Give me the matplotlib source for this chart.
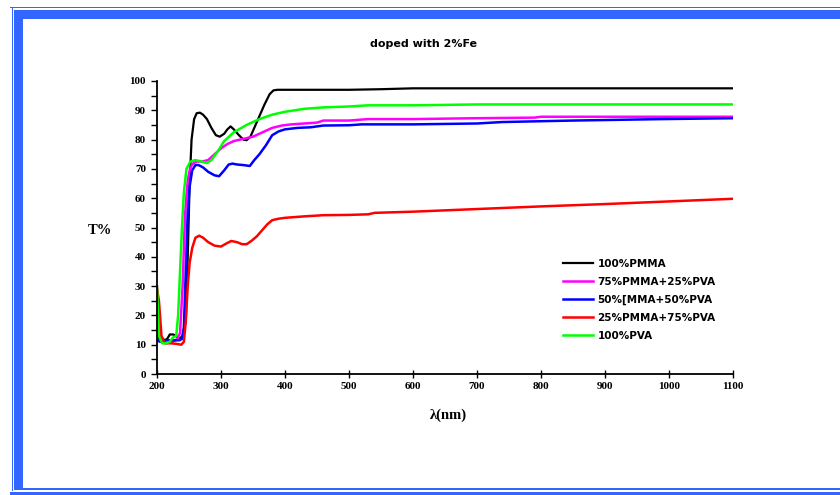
import matplotlib
matplotlib.use("Agg")
import matplotlib.pyplot as plt
from matplotlib.patches import Rectangle
from matplotlib.ticker import MultipleLocator

# wavelength (nm) / transmittance (%)
wl_pmma = [200, 203, 207, 212, 216, 220, 225, 230, 235, 240, 245, 248, 251, 254, 258, 262, 267,
           272, 278, 285, 292, 298, 305, 310, 315, 320, 328, 335, 340, 346, 352, 360, 368, 376,
           382, 388, 400, 450, 500, 550, 600, 700, 800, 900, 1000, 1100]
t_pmma = [13, 12, 12.5, 11.5, 12, 13.5, 13.5, 13, 12, 13, 18, 40, 65, 80, 87, 89, 89.2,
          88.5, 87, 84, 81.5, 81, 82, 83.5, 84.5, 83.5, 81.5, 80, 79.8, 81, 84, 88, 92, 95.5,
          96.8, 97, 97, 97, 97, 97.2, 97.5, 97.5, 97.5, 97.5, 97.5, 97.5]

wl_75 = [200, 203, 207, 215, 225, 232, 236, 240, 244, 248, 252, 257, 263, 270, 280, 290, 300,
         310, 320, 330, 340, 350, 360, 370, 380, 395, 410, 430, 450, 460, 500, 530, 600, 700,
         790, 800, 900, 1000, 1100]
t_75 = [30, 14, 11, 10.5, 11, 12, 14, 30, 55, 66, 70.5, 72, 72.5, 72.5, 73, 75, 77,
        78.5, 79.5, 80, 80.5, 81, 82, 83, 84, 84.8, 85.2, 85.5, 85.8, 86.5, 86.5, 87, 87, 87.3,
        87.5, 87.8, 87.8, 87.8, 87.8]

wl_50 = [200, 205, 215, 225, 235, 239, 242, 245, 248, 251, 255, 260, 265, 272, 280, 290, 297,
         305, 312, 318, 325, 335, 345, 352, 360, 370, 380, 390, 400, 420, 440, 460, 500, 520,
         600, 700, 740, 850, 990, 1100]
t_50 = [11.5, 11, 11.5, 11.5, 11.5, 12, 16, 35, 55, 64, 69.5, 71.3, 71.3, 70.5, 69, 67.8, 67.5,
        69.5, 71.5, 71.8, 71.5, 71.3, 71, 73, 75, 78, 81.5, 82.8, 83.5, 84, 84.2, 84.8, 84.9, 85.2,
        85.2, 85.5, 86, 86.5, 87, 87.3]

wl_25 = [200, 203, 207, 212, 220, 230, 238, 242, 245, 248, 251, 255, 260, 266, 272, 280, 290,
         300, 308, 316, 325, 333, 340, 348, 356, 364, 372, 380, 390, 400, 430, 460, 500, 530,
         540, 600, 700, 800, 900, 1000, 1100]
t_25 = [29, 25, 13, 10.5, 10.5, 10.3, 10, 11, 18, 30, 38, 43, 46.5, 47.2, 46.5, 45, 43.8,
        43.5, 44.5, 45.4, 45, 44.3, 44.3, 45.5, 47, 49, 51, 52.5, 53, 53.3, 53.8, 54.2, 54.3, 54.5,
        55, 55.4, 56.3, 57.2, 58, 58.9, 59.8]

wl_pva = [200, 203, 208, 215, 220, 225, 230, 233, 236, 239, 242, 246, 252, 260, 270, 278, 285,
          295, 305, 320, 340, 360, 380, 400, 430, 460, 500, 530, 600, 700, 1100]
t_pva = [30, 13, 10.5, 10.5, 11, 12.5, 13, 20, 35, 50, 62, 70, 72.5, 73, 72.5, 72, 73,
         76, 79.5, 82.5, 85, 87, 88.5, 89.5, 90.5, 91, 91.3, 91.7, 91.7, 92, 92]

series = [
    (wl_pmma, t_pmma, "black", "100%PMMA"),
    (wl_75, t_75, "#ff00ff", "75%PMMA+25%PVA"),
    (wl_50, t_50, "#0000ff", "50%[MMA+50%PVA"),
    (wl_25, t_25, "#ff0000", "25%PMMA+75%PVA"),
    (wl_pva, t_pva, "#00ff00", "100%PVA"),
]

W, H = 840, 495
fig = plt.figure(figsize=(W / 100, H / 100), dpi=100)


def px_rect(x0, y0, x1, y1, color="#3366ff"):
    fig.patches.append(Rectangle((x0 / W, 1 - y1 / H), (x1 - x0) / W, (y1 - y0) / H,
                                 transform=fig.transFigure, facecolor=color,
                                 edgecolor="none", zorder=0))


# double blue frame
px_rect(10, 6.7, W, 8)
px_rect(12, 7, 13, 490.5)
px_rect(10, 491.7, W, H)
px_rect(14, 10, W, 19)
px_rect(14, 10, 23, 489.5)
px_rect(14, 487.5, W, 489.5)

ax = fig.add_axes([157 / W, 1 - 374 / H, (733 - 157) / W, (374 - 81) / H])
for wl, t, c, lab in series:
    lw = 1.6 if c == "black" else 1.8
    ax.plot(wl, t, color=c, lw=lw, label=lab)

ax.set_xlim(200, 1100)
ax.set_ylim(0, 100)
ax.spines["top"].set_visible(False)
ax.spines["right"].set_visible(False)
ax.spines["left"].set_linewidth(1.3)
ax.spines["bottom"].set_linewidth(1.3)
ax.xaxis.set_major_locator(MultipleLocator(100))
ax.yaxis.set_major_locator(MultipleLocator(10))
ax.yaxis.set_minor_locator(MultipleLocator(5))
ax.tick_params(axis="x", direction="inout", length=6, width=1, pad=3)
ax.tick_params(axis="y", which="both", direction="out", length=4, width=1, pad=4)
for lab in ax.get_xticklabels() + ax.get_yticklabels():
    lab.set_fontfamily("Liberation Serif")
    lab.set_fontweight("bold")
    lab.set_fontsize(8)

fig.text(423 / W, 1 - 44 / H, "doped with 2%Fe", ha="center", va="center",
         fontsize=8, fontweight="bold", family="DejaVu Sans")
fig.text(100 / W, 1 - 230 / H, "T%", ha="center", va="center",
         fontsize=10.5, fontweight="bold", family="Liberation Serif")
fig.text(448 / W, 1 - 415 / H, "λ(nm)", ha="center", va="center",
         fontsize=10.5, fontweight="bold", family="Liberation Serif")

ax.legend(loc="upper left", bbox_to_anchor=(563 / W, 1 - 259 / H),
          bbox_transform=fig.transFigure, frameon=False, borderpad=0,
          borderaxespad=0, handlelength=2.9, handletextpad=0.4, labelspacing=0.76,
          prop={"family": "DejaVu Sans", "weight": "bold", "size": 7.5})

fig.savefig("out.png", dpi=100)
